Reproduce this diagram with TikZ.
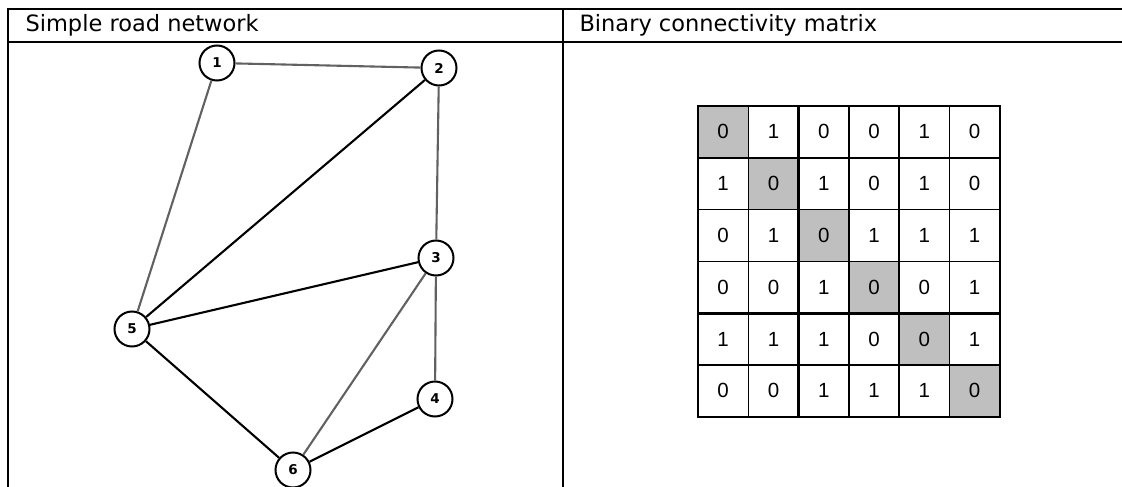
\documentclass[tikz,border=0pt]{standalone}
\usepackage{fontspec}
\setmainfont{DejaVu Sans}
\newfontfamily\cellfont{Liberation Sans}
\usetikzlibrary{calc}

\begin{document}
\begin{tikzpicture}[x=1pt, y=-1pt,
    frame/.style={line width=2.4pt},
    heading/.style={anchor=base west, font=\fontsize{22.5}{22.5}\selectfont},
    town/.style={circle, draw, line width=2pt, minimum size=35pt, inner sep=0pt,
                 fill=white, font=\fontsize{13.5}{13.5}\selectfont\bfseries},
    road/.style={line width=2.1pt},
    lane/.style={road, black!62},
    cell/.style={font=\cellfont\fontsize{20.5}{20.5}\selectfont}]
  \useasboundingbox (0,0) rectangle (1122,487);
  % table frame
  \draw[frame] (8,495) -- (8,9) -- (1130,9);
  \draw[frame] (8,42) -- (1130,42);
  \draw[frame] (563,9) -- (563,495);
  \node[heading] (head1) at (22,31.7) {Simple road network};
  \node[heading] (head2) at (576,31.7) {Binary connectivity matrix};

  % road network
  \node[town] (n1) at (217,63) {1};
  \node[town] (n2) at (439,68) {2};
  \node[town] (n3) at (436,258) {3};
  \node[town] (n4) at (435,399) {4};
  \node[town] (n5) at (132,329) {5};
  \node[town] (n6) at (293,470) {6};
  \draw[lane] (n1) -- (n2);
  \draw[lane] (n1) -- (n5);
  \draw[lane] (n2) -- (n3);
  \draw[lane] (n3) -- (n4);
  \draw[lane] (n3) -- (n6);
  \draw[road] (n2) -- (n5);
  \draw[road] (n3) -- (n5);
  \draw[road] (n5) -- (n6);
  \draw[road] (n6) -- (n4);

  % connectivity matrix
  \def\cw{50.3}
  \def\ch{51.8}
  \coordinate (m0) at (698,106);
  \foreach \i in {0,...,5}
    \fill[black!25] ($(m0)+(\i*\cw,\i*\ch)$) rectangle +(\cw,\ch);
  \foreach \row [count=\r] in {{0,1,0,0,1,0},{1,0,1,0,1,0},{0,1,0,1,1,1},
                               {0,0,1,0,0,1},{1,1,1,0,0,1},{0,0,1,1,1,0}}
    \foreach \v [count=\c] in \row
      \node[cell] (c-\r-\c) at ($(m0)+(\c*\cw-0.5*\cw,\r*\ch-0.5*\ch)$) {\v};
  \foreach \k in {0,...,6} {
    \draw[line width=1.5pt] ($(m0)+(\k*\cw,0)$) -- +(0,6*\ch);
    \draw[line width=1.5pt] ($(m0)+(0,\k*\ch)$) -- +(6*\cw,0);
  }
  \foreach \k in {2,3}
    \draw[line width=2.8pt] ($(m0)+(\k*\cw,0)$) -- +(0,6*\ch);
  \draw[line width=2.8pt] ($(m0)+(0,4*\ch)$) -- +(6*\cw,0);
  \draw[line width=2pt] (m0) rectangle +(6*\cw,6*\ch);
\end{tikzpicture}
\end{document}
